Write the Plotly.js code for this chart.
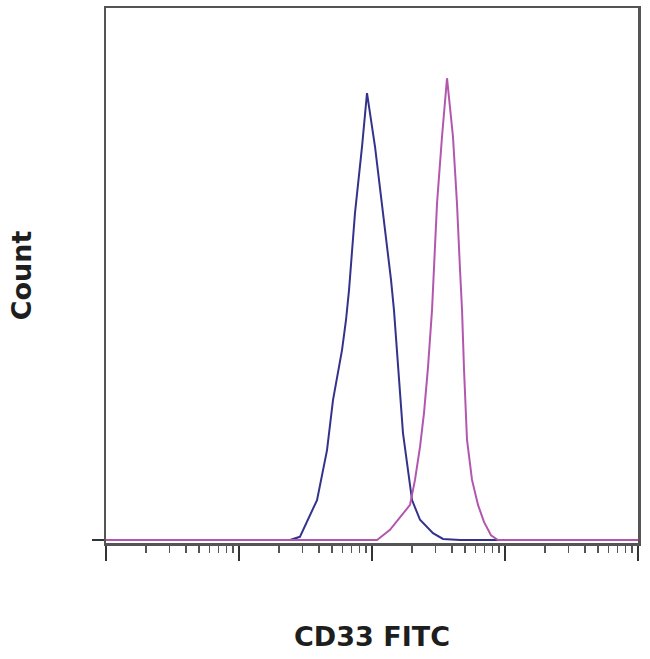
<!DOCTYPE html>
<html>
<head>
<meta charset="utf-8">
<script src="https://cdn.plot.ly/plotly-3.0.1.min.js"></script>
<style>
  html, body { margin: 0; padding: 0; background: #ffffff; }
  #chart { width: 650px; height: 659px; }
</style>
</head>
<body>
<div id="chart"></div>
<script>
// Isotype control (blue) - fluorescence (CD33 FITC, log scale) vs count
const isotypeX = [10, 51, 242, 287, 330, 386, 459, 509, 595, 638, 672, 745, 841, 917,
                  1054, 1210, 1390, 1463, 1568, 1710, 2000, 2296, 2875, 3420, 4590, 100000];
const isotypeY = [0, 0, 0, 0.6, 3.8, 7.5, 16.9, 26.3, 35.7, 41.4, 47.0, 61.5, 73.9, 84.0,
                  73.9, 61.5, 48.9, 43.2, 32.5, 20.1, 7.5, 3.8, 1.3, 0.2, 0, 0];

// CD33 stained (magenta)
const cd33X = [10, 800, 1092, 1365, 1710, 1931, 2105, 2296, 2461, 2637, 2826, 2926, 3083, 3360, 3664,
               4063, 4354, 4590, 4753, 4920, 5180, 5650, 6268, 6950, 7850, 8855, 100000];
const cd33Y = [0, 0, 0, 1.9, 5.1, 6.6, 11.3, 17.5, 23.9, 32.5, 43.2, 50.8, 63.3, 75.8, 86.8,
               75.8, 63.3, 50.8, 43.2, 32.0, 18.8, 11.3, 6.6, 3.4, 0.9, 0, 0];

const majorTicks = [10, 100, 1000, 10000, 100000];
const minorTicks = [];
for (const d of [10, 100, 1000, 10000]) {
  for (let k = 2; k <= 9; k++) minorTicks.push(d * k);
}

const traces = [
  { x: isotypeX, y: isotypeY, type: 'scatter', mode: 'lines',
    line: { color: '#33338c', width: 2 }, name: 'Isotype', hoverinfo: 'skip' },
  { x: cd33X, y: cd33Y, type: 'scatter', mode: 'lines',
    line: { color: '#b357ae', width: 2 }, name: 'CD33', hoverinfo: 'skip' }
];

const layout = {
  width: 650, height: 659,
  margin: { l: 106, r: 12, t: 8, b: 116 },
  paper_bgcolor: '#ffffff', plot_bgcolor: '#ffffff',
  showlegend: false,
  font: { family: 'DejaVu Sans, Liberation Sans, Arial, sans-serif', color: '#222' },
  xaxis: {
    type: 'log', range: [1, 5],
    showgrid: false, zeroline: false,
    showline: true, linecolor: '#555', linewidth: 2.5, mirror: true,
    tickmode: 'array', tickvals: majorTicks, ticktext: majorTicks.map(() => ''),
    ticks: 'outside', ticklen: 15, tickwidth: 1.5, tickcolor: '#333',
    minor: { tickmode: 'array', tickvals: minorTicks, ticks: 'outside', ticklen: 7,
             tickwidth: 1.2, tickcolor: '#555', showgrid: false },
    title: { text: '<b>CD33 FITC</b>', font: { size: 27, color: '#1e1e1e' }, standoff: 65 }
  },
  yaxis: {
    range: [-0.564, 100],
    showgrid: false, zeroline: false,
    showline: true, linecolor: '#555', linewidth: 2.5, mirror: true,
    tickmode: 'array', tickvals: [0], ticktext: [''],
    ticks: 'outside', ticklen: 12, tickwidth: 1.5, tickcolor: '#333',
    title: { text: '<b>Count</b>', font: { size: 27, color: '#1e1e1e' }, standoff: 50 }
  }
};

Plotly.newPlot('chart', traces, layout, { staticPlot: true, displayModeBar: false });
</script>
</body>
</html>
